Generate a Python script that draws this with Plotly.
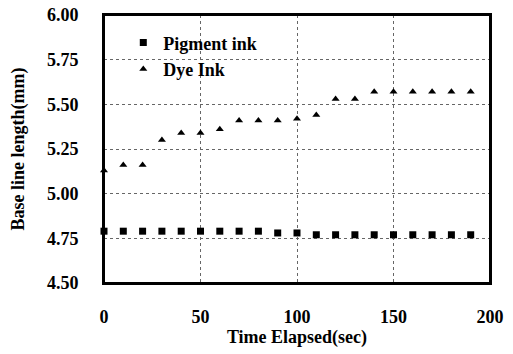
import plotly.graph_objects as go

time_sec = [0, 10, 20, 30, 40, 50, 60, 70, 80, 90, 100, 110, 120, 130, 140, 150, 160, 170, 180, 190]
pigment_ink = [4.79, 4.79, 4.79, 4.79, 4.79, 4.79, 4.79, 4.79, 4.79, 4.78, 4.78, 4.77, 4.77, 4.77, 4.77, 4.77, 4.77, 4.77, 4.77, 4.77]
dye_ink = [5.13, 5.16, 5.16, 5.30, 5.34, 5.34, 5.36, 5.41, 5.41, 5.41, 5.42, 5.44, 5.53, 5.53, 5.57, 5.57, 5.57, 5.57, 5.57, 5.57]
x_ticks = [0, 50, 100, 150, 200]
y_ticks = [4.50, 4.75, 5.00, 5.25, 5.50, 5.75, 6.00]
y_tick_labels = ["4.50", "4.75", "5.00", "5.25", "5.50", "5.75", "6.00"]

font_family = "Liberation Serif"

fig = go.Figure()
fig.add_trace(go.Scatter(x=time_sec, y=pigment_ink, mode="markers", name="<b>Pigment ink</b>",
                         marker=dict(symbol="square", size=7, color="black"), cliponaxis=False))
fig.add_trace(go.Scatter(x=time_sec, y=dye_ink, mode="markers", name="<b>Dye Ink</b>",
                         marker=dict(symbol="triangle-up", size=7, color="black"), cliponaxis=False))

fig.add_shape(type="rect", xref="paper", yref="paper", x0=0, y0=0, x1=1, y1=1,
              line=dict(color="black", width=2), layer="above")

fig.update_layout(
    width=513, height=354,
    margin=dict(l=104, r=23, t=15, b=71, autoexpand=False),
    paper_bgcolor="white", plot_bgcolor="white",
    font=dict(family=font_family, size=18, color="black"),
    showlegend=True,
    legend=dict(x=0.05, y=0.965, xanchor="left", yanchor="top", bgcolor="rgba(0,0,0,0)",
                font=dict(family=font_family, size=18, color="black"), itemwidth=30,
                tracegroupgap=0),
    xaxis=dict(range=[0, 200], tickvals=x_ticks, ticktext=[f"<b>{v}</b>" for v in x_ticks],
               showgrid=True, gridcolor="#666", griddash="dot", gridwidth=1,
               showline=True, linecolor="black", linewidth=2, mirror=True,
               ticks="outside", ticklen=16, tickcolor="rgba(0,0,0,0)", zeroline=False,
               automargin=False,
               title=dict(text="<b>Time Elapsed(sec)</b>", font=dict(size=18), standoff=4)),
    yaxis=dict(range=[4.5, 6.0], tickvals=y_ticks, ticktext=[f"<b>{t}</b>" for t in y_tick_labels],
               showgrid=True, gridcolor="#666", griddash="dot", gridwidth=1,
               showline=True, linecolor="black", linewidth=2, mirror=True,
               ticks="outside", ticklen=20, tickcolor="rgba(0,0,0,0)", zeroline=False,
               automargin=False,
               title=dict(text="<b>Base line length(mm)</b>", font=dict(size=18), standoff=18)),
)

fig.write_html("out.html", config={"displayModeBar": False},
               post_script="document.body.style.margin='0';")
